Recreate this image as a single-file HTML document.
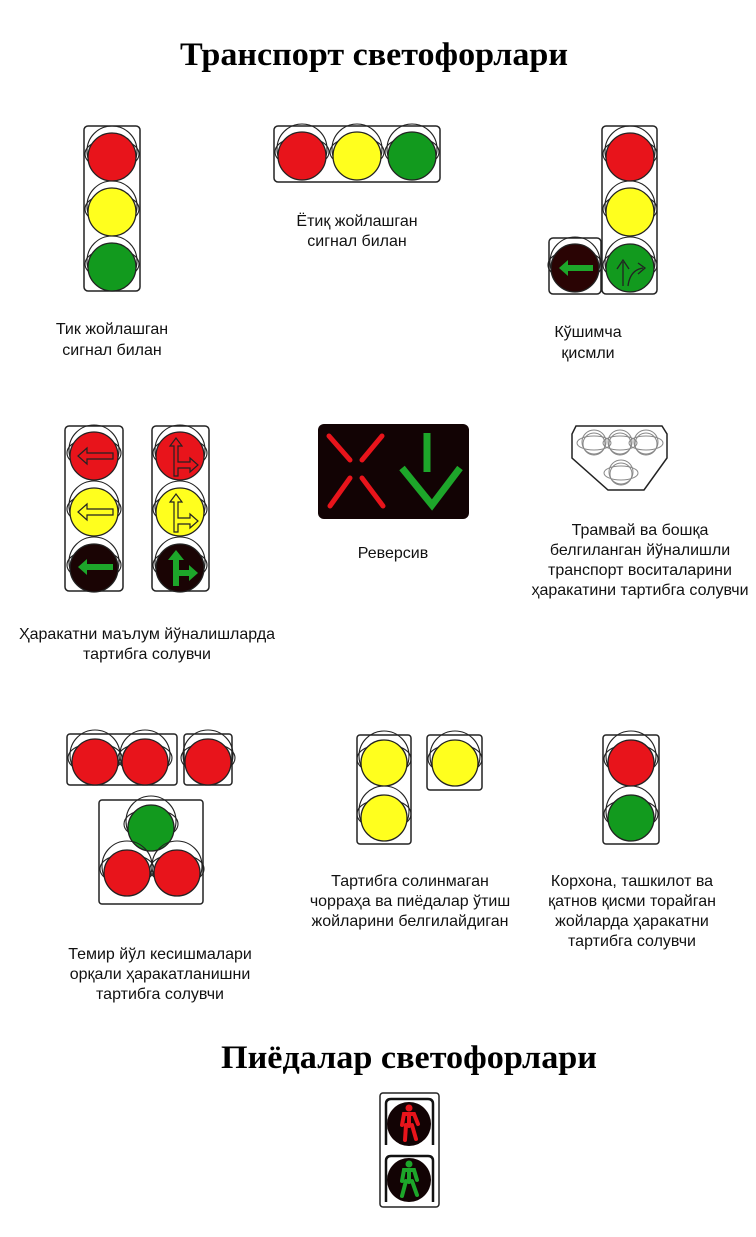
<!DOCTYPE html>
<html><head><meta charset="utf-8"><style>
html,body{margin:0;padding:0;background:#fff;width:756px;height:1237px;overflow:hidden}
svg{display:block}
.t{font-family:"Liberation Sans","DejaVu Sans",sans-serif;font-size:16px;fill:#111;text-anchor:middle}
.h{font-family:"Liberation Serif","DejaVu Serif",serif;font-weight:bold;font-size:33px;fill:#000;text-anchor:middle}
.box{fill:#fff;stroke:#222;stroke-width:1.5}
.L{stroke:#222;stroke-width:1.3}
</style></head><body>
<svg width="756" height="1237" viewBox="0 0 756 1237" xmlns="http://www.w3.org/2000/svg">
<defs>
<g id="v" fill="none" stroke="#222" stroke-width="1.1">
<ellipse cx="0" cy="-1" rx="27" ry="15"/>
<circle cx="0" cy="-4" r="25"/>
</g>
<g id="vs" fill="none" stroke="#888" stroke-width="1">
<ellipse cx="0" cy="0" rx="17" ry="7"/>
<circle cx="0" cy="-1" r="12"/>
<circle cx="0" cy="1" r="11"/>
</g>
</defs>

<text class="h" x="374" y="65" textLength="388" lengthAdjust="spacingAndGlyphs">Транспорт светофорлари</text>

<!-- light 1 -->
<rect class="box" x="84" y="126" width="56" height="165" rx="4"/>
<use href="#v" x="112" y="155"/><circle class="L" cx="112" cy="157" r="24" fill="#e8141b"/>
<use href="#v" x="112" y="210"/><circle class="L" cx="112" cy="212" r="24" fill="#ffff1e"/>
<use href="#v" x="112" y="265"/><circle class="L" cx="112" cy="267" r="24" fill="#129a1e"/>
<text class="t" x="112" y="334">Тик жойлашган</text>
<text class="t" x="112" y="355">сигнал билан</text>

<!-- horizontal -->
<rect class="box" x="274" y="126" width="166" height="56" rx="4"/>
<use href="#v" x="302" y="153"/><circle class="L" cx="302" cy="156" r="24" fill="#e8141b"/>
<use href="#v" x="357" y="153"/><circle class="L" cx="357" cy="156" r="24" fill="#ffff1e"/>
<use href="#v" x="412" y="153"/><circle class="L" cx="412" cy="156" r="24" fill="#129a1e"/>
<text class="t" x="357" y="226">Ётиқ жойлашган</text>
<text class="t" x="357" y="246">сигнал билан</text>

<!-- additional -->
<rect class="box" x="602" y="126" width="55" height="168" rx="4"/>
<use href="#v" x="630" y="155"/><circle class="L" cx="630" cy="157" r="24" fill="#e8141b"/>
<use href="#v" x="630" y="210"/><circle class="L" cx="630" cy="212" r="24" fill="#ffff1e"/>
<use href="#v" x="630" y="266"/><circle class="L" cx="630" cy="268" r="24" fill="#129a1e"/>
<g fill="none" stroke="#222" stroke-width="1.3"><path d="M623 286 V262 M617 269 L623 260 L629 269"/><path d="M628 286 Q630 270 643 268 M638 263 L645 268 L638 274"/></g>
<rect class="box" x="549" y="238" width="52" height="56" rx="4"/>
<use href="#v" x="575" y="266"/><circle class="L" cx="575" cy="268" r="24" fill="#2a0404"/>
<path d="M559 268 L568 260 V265 H593 V271 H568 V276 Z" fill="#1da62a"/>
<text class="t" x="588" y="337">Кўшимча</text>
<text class="t" x="588" y="358">қисмли</text>

<!-- arrows light 1 -->
<rect class="box" x="65" y="426" width="58" height="165" rx="4"/>
<use href="#v" x="94" y="454"/><circle class="L" cx="94" cy="456" r="24" fill="#e8141b"/>
<use href="#v" x="94" y="510"/><circle class="L" cx="94" cy="512" r="24" fill="#ffff1e"/>
<use href="#v" x="94" y="566"/><circle class="L" cx="94" cy="568" r="24" fill="#1a0404"/>
<path d="M78 456 L87 448 V453 H113 V459 H87 V464 Z" fill="none" stroke="#222" stroke-width="1.2"/>
<path d="M78 512 L87 504 V509 H113 V515 H87 V520 Z" fill="none" stroke="#222" stroke-width="1.2"/>
<path d="M78 567 L87 559 V564 H113 V570 H87 V575 Z" fill="#1da62a"/>
<!-- arrows light 2 -->
<rect class="box" x="152" y="426" width="57" height="165" rx="4"/>
<use href="#v" x="180" y="454"/><circle class="L" cx="180" cy="456" r="24" fill="#e8141b"/>
<use href="#v" x="180" y="510"/><circle class="L" cx="180" cy="512" r="24" fill="#ffff1e"/>
<use href="#v" x="180" y="566"/><circle class="L" cx="180" cy="568" r="24" fill="#1a0404"/>
<path d="M174 476 V446 H170 L176 438 L182 446 H178 V462 H190 V458 L198 465 L190 472 V468 H178 V476 Z" fill="none" stroke="#222" stroke-width="1.2"/>
<path d="M174 532 V502 H170 L176 494 L182 502 H178 V518 H190 V514 L198 521 L190 528 V524 H178 V532 Z" fill="none" stroke="#222" stroke-width="1.2"/>
<path d="M173 586 V560 H168 L176 550 L184 560 H179 V570 H189 V565 L198 573 L189 581 V576 H179 V586 Z" fill="#1da62a"/>
<text class="t" x="147" y="639">Ҳаракатни маълум йўналишларда</text>
<text class="t" x="147" y="659">тартибга солувчи</text>

<!-- reversive -->
<rect x="318" y="424" width="151" height="95" rx="6" fill="#120304"/>
<g stroke="#e8141b" stroke-width="5" stroke-linecap="round">
<line x1="329" y1="436" x2="350" y2="460"/><line x1="382" y1="436" x2="362" y2="460"/>
<line x1="350" y1="478" x2="330" y2="506"/><line x1="362" y1="478" x2="383" y2="506"/></g>
<g stroke="#1da62a" stroke-width="7"><line x1="427" y1="433" x2="427" y2="472"/>
<polyline points="402,468 432,505 460,468" fill="none"/></g>
<text class="t" x="393" y="558">Реверсив</text>

<!-- tram -->
<path d="M576 426 H662 L667 434 V458 L644 490 H608 L572 458 V434 Z" class="box"/>
<use href="#vs" x="594" y="443"/>
<use href="#vs" x="620" y="443"/><use href="#vs" x="646" y="443"/><use href="#vs" x="621" y="473"/>
<text class="t" x="640" y="535">Трамвай ва бошқа</text>
<text class="t" x="640" y="555">белгиланган йўналишли</text>
<text class="t" x="640" y="575">транспорт воситаларини</text>
<text class="t" x="640" y="595">ҳаракатини тартибга солувчи</text>

<!-- railway -->
<rect class="box" x="67" y="734" width="110" height="51" rx="3"/>
<use href="#v" x="95" y="759"/><circle class="L" cx="95" cy="762" r="23" fill="#e8141b"/>
<use href="#v" x="145" y="759"/><circle class="L" cx="145" cy="762" r="23" fill="#e8141b"/>
<rect class="box" x="184" y="734" width="48" height="51" rx="3"/>
<use href="#v" x="208" y="759"/><circle class="L" cx="208" cy="762" r="23" fill="#e8141b"/>
<rect class="box" x="99" y="800" width="104" height="104" rx="3"/>
<use href="#v" x="151" y="825"/><circle class="L" cx="151" cy="828" r="23" fill="#129a1e"/>
<use href="#v" x="127" y="870"/><circle class="L" cx="127" cy="873" r="23" fill="#e8141b"/>
<use href="#v" x="177" y="870"/><circle class="L" cx="177" cy="873" r="23" fill="#e8141b"/>
<text class="t" x="160" y="959">Темир йўл кесишмалари</text>
<text class="t" x="160" y="979">орқали ҳаракатланишни</text>
<text class="t" x="160" y="999">тартибга солувчи</text>

<!-- unregulated -->
<rect class="box" x="357" y="735" width="54" height="109" rx="3"/>
<use href="#v" x="384" y="760"/><circle class="L" cx="384" cy="763" r="23" fill="#ffff1e"/>
<use href="#v" x="384" y="815"/><circle class="L" cx="384" cy="818" r="23" fill="#ffff1e"/>
<rect class="box" x="427" y="735" width="55" height="55" rx="3"/>
<use href="#v" x="455" y="760"/><circle class="L" cx="455" cy="763" r="23" fill="#ffff1e"/>
<text class="t" x="410" y="886">Тартибга солинмаган</text>
<text class="t" x="410" y="906">чорраҳа ва пиёдалар ўтиш</text>
<text class="t" x="410" y="926">жойларини белгилайдиган</text>

<!-- factory -->
<rect class="box" x="603" y="735" width="56" height="109" rx="3"/>
<use href="#v" x="631" y="760"/><circle class="L" cx="631" cy="763" r="23" fill="#e8141b"/>
<use href="#v" x="631" y="815"/><circle class="L" cx="631" cy="818" r="23" fill="#129a1e"/>
<text class="t" x="632" y="886">Корхона, ташкилот ва</text>
<text class="t" x="632" y="906">қатнов қисми торайган</text>
<text class="t" x="632" y="926">жойларда ҳаракатни</text>
<text class="t" x="632" y="946">тартибга солувчи</text>

<text class="h" x="409" y="1068" textLength="376" lengthAdjust="spacingAndGlyphs">Пиёдалар светофорлари</text>

<!-- pedestrian -->
<rect class="box" x="380" y="1093" width="59" height="114" rx="3"/>
<g fill="none" stroke="#111" stroke-width="2.5">
<path d="M386 1145 V1104 Q386 1099 391 1099 H428 Q433 1099 433 1104 V1145"/>
<path d="M386 1202 V1161 Q386 1156 391 1156 H428 Q433 1156 433 1161 V1202"/></g>
<circle cx="409" cy="1124" r="22" fill="#120304"/>
<circle cx="409" cy="1180" r="22" fill="#120304"/>
<g fill="#e8141b" stroke="#e8141b" stroke-linecap="round">
<circle cx="409" cy="1108" r="3"/>
<path d="M402 1125 L404 1114 H414 L418 1124 M409 1114 V1126 M406 1125 L405 1140 M412 1125 L416 1139" stroke-width="4" fill="none"/></g>
<g fill="#1da62a" stroke="#1da62a" stroke-linecap="round">
<circle cx="409" cy="1164" r="3"/>
<path d="M402 1181 L404 1170 H414 L417 1180 M409 1170 V1182 M406 1181 L402 1196 M412 1181 L417 1195" stroke-width="4" fill="none"/></g>
</svg>
</body></html>
